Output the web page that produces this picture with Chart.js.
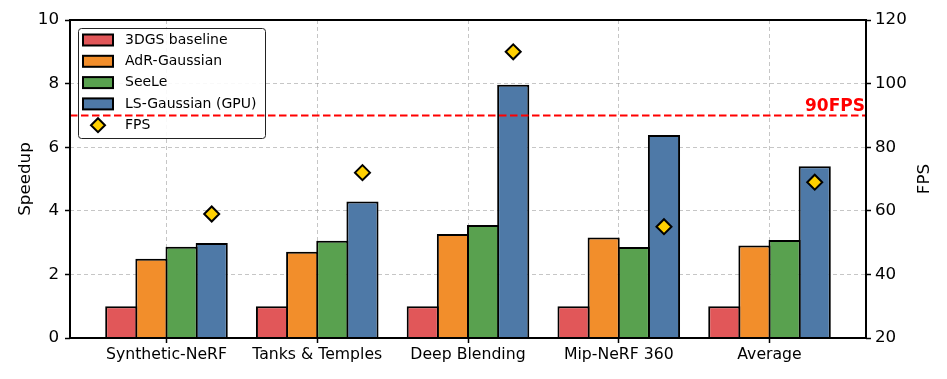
<!DOCTYPE html>
<html>
<head>
<meta charset="utf-8">
<script src="https://cdn.jsdelivr.net/npm/chart.js@4/dist/chart.umd.min.js"></script>
<style>
  html, body { margin: 0; padding: 0; background: #fff; }
  #wrap { width: 947px; height: 379px; }
</style>
</head>
<body>
<div id="wrap"><canvas id="chart" width="947" height="379"></canvas></div>
<script>
// --------- Data ----------
const categories = ['Synthetic-NeRF', 'Tanks & Temples', 'Deep Blending', 'Mip-NeRF 360', 'Average'];
const seriesNames = ['3DGS baseline', 'AdR-Gaussian', 'SeeLe', 'LS-Gaussian (GPU)'];
const baseline   = [1, 1, 1, 1, 1];
const adrGauss   = [2.49, 2.71, 3.27, 3.16, 2.91];
const seele      = [2.87, 3.06, 3.55, 2.86, 3.08];
const lsGaussian = [2.99, 4.29, 7.96, 6.38, 5.40];
const fps        = [59, 72, 110, 55, 69];
const fpsTarget  = 90;
const speedupTicks = [0, 2, 4, 6, 8, 10];
const fpsTicks     = [20, 40, 60, 80, 100, 120];

// --------- Styles ----------
const colors  = ['#e15759', '#f28e2b', '#59a14f', '#4e79a7'];
const offsets = [-0.3, -0.1, 0.1, 0.3];
const FONT = 'DejaVu Sans';
Chart.defaults.font.family = FONT;
Chart.defaults.color = '#000';

const gridStyle = {
  color: 'rgba(160,160,160,0.6)',
  lineWidth: 1,
  offset: false,
  tickColor: '#000',
  tickWidth: 1.5,
  tickLength: 5,
  tickBorderDash: []
};
const borderStyle = { display: false, dash: [4, 3] };

const barSets = [baseline, adrGauss, seele, lsGaussian].map((vals, s) => ({
  type: 'bar',
  label: seriesNames[s],
  data: vals.map((v, i) => ({ x: i + offsets[s], y: v })),
  backgroundColor: colors[s],
  borderColor: '#000',
  borderWidth: 2,
  borderSkipped: 'bottom',
  grouped: false,
  barPercentage: 1.066,   // edges overlap like matplotlib's centred outlines
  categoryPercentage: 1,
  xAxisID: 'x',
  yAxisID: 'y',
  order: 1
}));

const fpsSet = {
  type: 'line',
  label: 'FPS',
  data: fps.map((v, i) => ({ x: i + 0.3, y: v })),
  showLine: false,
  pointStyle: 'rectRot',
  pointRadius: 7.5,
  pointBackgroundColor: '#ffd000',
  pointBorderColor: '#000',
  pointBorderWidth: 2,
  xAxisID: 'x',
  yAxisID: 'y1',
  order: 0
};

// --------- Plugins ----------
// legend box inside the axes (top-left)
function drawLegend(chart) {
  const { ctx, chartArea: a } = chart;
  const x0 = a.left + 8, y0 = a.top + 8;
  const w = 187, h = 110, rowH = 21.3;
  ctx.save();
  ctx.fillStyle = 'rgba(255,255,255,0.9)';
  ctx.strokeStyle = '#222';
  ctx.lineWidth = 1;
  ctx.beginPath();
  ctx.roundRect(x0 + 0.5, y0 + 0.5, w, h, 3);
  ctx.fill();
  ctx.stroke();
  ctx.font = '14px ' + FONT;
  ctx.textBaseline = 'middle';
  ctx.textAlign = 'left';
  chart.data.datasets.forEach((ds, k) => {
    const cy = y0 + 12 + k * rowH;
    if (ds.type === 'bar') {
      ctx.fillStyle = ds.backgroundColor;
      ctx.fillRect(x0 + 5, cy - 5.5, 30, 11);
      ctx.strokeStyle = '#000';
      ctx.lineWidth = 2;
      ctx.strokeRect(x0 + 5, cy - 5.5, 30, 11);
    } else {
      const cx = x0 + 20, r = 7;
      ctx.beginPath();
      ctx.moveTo(cx, cy - r);
      ctx.lineTo(cx + r, cy);
      ctx.lineTo(cx, cy + r);
      ctx.lineTo(cx - r, cy);
      ctx.closePath();
      ctx.fillStyle = ds.pointBackgroundColor;
      ctx.fill();
      ctx.strokeStyle = '#000';
      ctx.lineWidth = 2;
      ctx.stroke();
    }
    ctx.fillStyle = '#000';
    ctx.fillText(ds.label, x0 + 47, cy);
  });
  ctx.restore();
}

// legend, 90 FPS line, frame around the axes, right axis title
const overlayPlugin = {
  id: 'overlay',
  afterDatasetsDraw(chart) {
    const { ctx, chartArea: a, scales } = chart;
    drawLegend(chart);

    const yT = scales.y1.getPixelForValue(fpsTarget);
    ctx.save();
    ctx.strokeStyle = '#ff0000';
    ctx.lineWidth = 2;
    ctx.setLineDash([7.5, 3.5]);
    ctx.beginPath();
    ctx.moveTo(a.left, yT);
    ctx.lineTo(a.right, yT);
    ctx.stroke();
    ctx.setLineDash([]);
    ctx.fillStyle = '#ff0000';
    ctx.font = 'bold 17px ' + FONT;
    ctx.textAlign = 'right';
    ctx.textBaseline = 'alphabetic';
    ctx.fillText(fpsTarget + 'FPS', a.right - 1, yT - 4);

    ctx.strokeStyle = '#000';
    ctx.lineWidth = 2;
    ctx.strokeRect(a.left, a.top, a.right - a.left, a.bottom - a.top);

    // right axis title, reading bottom-to-top
    ctx.translate(925, (a.top + a.bottom) / 2);
    ctx.rotate(-Math.PI / 2);
    ctx.fillStyle = '#000';
    ctx.font = '16.7px ' + FONT;
    ctx.textAlign = 'center';
    ctx.textBaseline = 'middle';
    ctx.fillText('FPS', 0, 0);
    ctx.restore();
  }
};

// --------- Chart ----------
const ctx = document.getElementById('chart').getContext('2d');
new Chart(ctx, {
  data: { datasets: [...barSets, fpsSet] },
  options: {
    responsive: false,
    animation: false,
    layout: { padding: { top: 20, left: 0, right: 0, bottom: 0 } },
    plugins: { legend: { display: false }, tooltip: { enabled: false } },
    scales: {
      x: {
        type: 'linear',
        position: 'bottom',
        offset: false,
        min: -0.64,
        max: 4.64,
        afterBuildTicks: s => { s.ticks = categories.map((_, i) => ({ value: i })); },
        afterFit: s => { s.height = 41; },
        ticks: {
          autoSkip: false,
          maxRotation: 0,
          padding: 3,
          font: { size: 15.7 },
          callback: v => categories[v] ?? ''
        },
        grid: gridStyle,
        border: borderStyle
      },
      y: {
        position: 'left',
        min: 0,
        max: 10,
        afterBuildTicks: s => { s.ticks = speedupTicks.map(v => ({ value: v })); },
        afterFit: s => { s.width = 70; },
        ticks: { padding: 6, font: { size: 16.7 } },
        grid: gridStyle,
        border: borderStyle,
        title: { display: true, text: 'Speedup', font: { size: 16.7 }, padding: { top: 16, bottom: 0 } }
      },
      y1: {
        position: 'right',
        min: 20,
        max: 120,
        afterBuildTicks: s => { s.ticks = fpsTicks.map(v => ({ value: v })); },
        afterFit: s => { s.width = 81; },
        ticks: { padding: 4, font: { size: 16.7 } },
        grid: { ...gridStyle, drawOnChartArea: false },
        border: borderStyle
      }
    }
  },
  plugins: [overlayPlugin]
});
</script>
</body>
</html>
